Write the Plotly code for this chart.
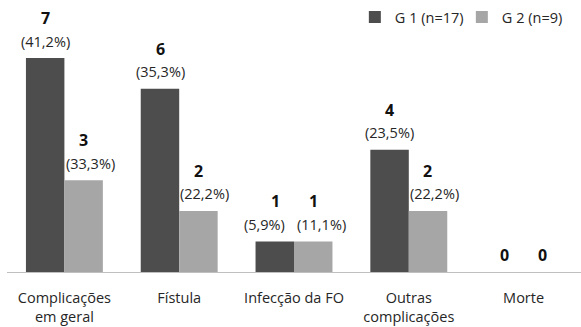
import plotly.graph_objects as go

categories = ["Complicações<br>em geral", "Fístula", "Infecção da FO", "Outras<br>complicações", "Morte"]
g1_values = [7, 6, 1, 4, 0]
g2_values = [3, 2, 1, 2, 0]
g1_pct = ["(41,2%)", "(35,3%)", "(5,9%)", "(23,5%)", ""]
g2_pct = ["(33,3%)", "(22,2%)", "(11,1%)", "(22,2%)", ""]
series_names = ["G 1 (n=17)", "G 2 (n=9)"]

# horizontal nudges (px) for the percentage labels so neighbours don't collide
g1_pct_nudge = [0, 0, -11, 0, 0]
g2_pct_nudge = [7, 6, 8, 7, 0]

FONT = "Open Sans"
C1 = "#4d4d4d"
C2 = "#a6a6a6"
TXT = "#262626"

fig = go.Figure()
fig.add_bar(x=categories, y=g1_values, name=series_names[0], marker_color=C1, marker_line_width=0)
fig.add_bar(x=categories, y=g2_values, name=series_names[1], marker_color=C2, marker_line_width=0)

annotations = []
for vals, pcts, nudges, shift in ((g1_values, g1_pct, g1_pct_nudge, -19),
                                  (g2_values, g2_pct, g2_pct_nudge, 19)):
    for cat, v, p, n in zip(categories, vals, pcts, nudges):
        if p:
            annotations.append(dict(x=cat, y=v, text=p, showarrow=False, xshift=shift + n,
                                    yshift=17, font=dict(family=FONT, size=14.5, color=TXT)))
            annotations.append(dict(x=cat, y=v, text="<b>%d</b>" % v, showarrow=False, xshift=shift,
                                    yshift=40, font=dict(family=FONT, size=16, color="#111")))
        else:
            annotations.append(dict(x=cat, y=v, text="<b>%d</b>" % v, showarrow=False, xshift=shift,
                                    yshift=17, font=dict(family=FONT, size=16, color="#111")))

fig.update_layout(
    width=581, height=327,
    margin=dict(l=7, r=0, t=0, b=55, autoexpand=False),
    paper_bgcolor="white", plot_bgcolor="white",
    barmode="group", bargap=0.33, bargroupgap=0,
    font=dict(family=FONT, size=14.5, color=TXT),
    showlegend=True,
    legend=dict(orientation="h", x=0.606, y=0.9375, xanchor="left", yanchor="middle",
                font=dict(family=FONT, size=14.5, color=TXT),
                entrywidth=62, entrywidthmode="pixels",
                itemwidth=30, bgcolor="rgba(0,0,0,0)"),
    annotations=annotations,
)
fig.update_xaxes(showline=True, linecolor="#bfbfbf", linewidth=1, ticks="outside",
                 ticklen=13, tickcolor="rgba(0,0,0,0)", showgrid=False,
                 tickfont=dict(family=FONT, size=14.5, color=TXT))
fig.update_yaxes(visible=False, range=[0, 8.9], showgrid=False)

fig.write_html("out.html")
